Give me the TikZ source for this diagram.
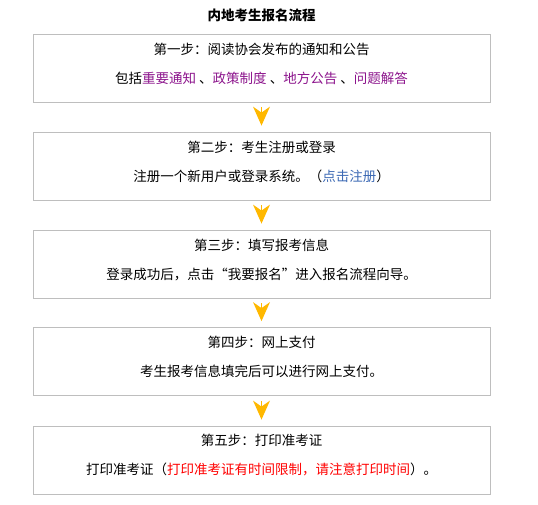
\documentclass[tikz,border=0pt]{standalone}
\usepackage{fontspec}
\setmainfont{Noto Sans CJK SC}
\usepackage{tikz}
\usetikzlibrary{arrows.meta}

\definecolor{boxgray}{RGB}{190,190,190}
\definecolor{arrowgold}{RGB}{255,184,0}
\definecolor{linkpurple}{RGB}{140,20,140}
\definecolor{linkblue}{RGB}{60,105,180}
\definecolor{notered}{RGB}{255,0,0}

\tikzset{
	stepbox/.style={shape=rectangle,draw=boxgray,line width=0.8pt,minimum width=457pt,minimum height=68pt},
	steptext/.style={align=center,font=\fontsize{13.5}{29}\selectfont},
	chevron/.style={draw=arrowgold,line width=0.1pt,shorten <=5pt,shorten >=6pt,
		-{Stealth[length=19pt,width=17pt,inset=6pt,line width=0pt,fill=arrowgold]}}
}

\begin{document}
\begin{tikzpicture}[x=1pt,y=1pt]
	\useasboundingbox (0,0) rectangle (538,-505);
	\draw (261.5,-15) node (title) [font=\fontsize{13.5}{16}\selectfont\bfseries] {内地考生报名流程};
	\draw (261.5,-68) node (s1) [stepbox] {};
	\draw (261.5,-166) node (s2) [stepbox] {};
	\draw (261.5,-264) node (s3) [stepbox] {};
	\draw (261.5,-361.5) node (s4) [stepbox] {};
	\draw (261.5,-460) node (s5) [stepbox] {};
	\draw (261.5,-63.5) node (t1) [steptext] {第一步：阅读协会发布的通知和公告\\包括\textcolor{linkpurple}{重要通知}\ 、\textcolor{linkpurple}{政策制度}\ 、\textcolor{linkpurple}{地方公告}\ 、\textcolor{linkpurple}{问题解答}};
	\draw (261.5,-161.5) node (t2) [steptext] {第二步：考生注册或登录\\注册一个新用户或登录系统。（\textcolor{linkblue}{点击注册}）};
	\draw (261.5,-259.5) node (t3) [steptext] {第三步：填写报考信息\\登录成功后，点击“我要报名”进入报名流程向导。};
	\draw (261.5,-357) node (t4) [steptext] {第四步：网上支付\\考生报考信息填完后可以进行网上支付。};
	\draw (261.5,-455.5) node (t5) [steptext] {第五步：打印准考证\\打印准考证（\textcolor{notered}{打印准考证有时间限制，请注意打印时间}）。};
	\foreach \i/\j in {s1/s2,s2/s3,s3/s4,s4/s5} {
		\draw [chevron] (\i) -- (\j);
	}
\end{tikzpicture}
\end{document}
